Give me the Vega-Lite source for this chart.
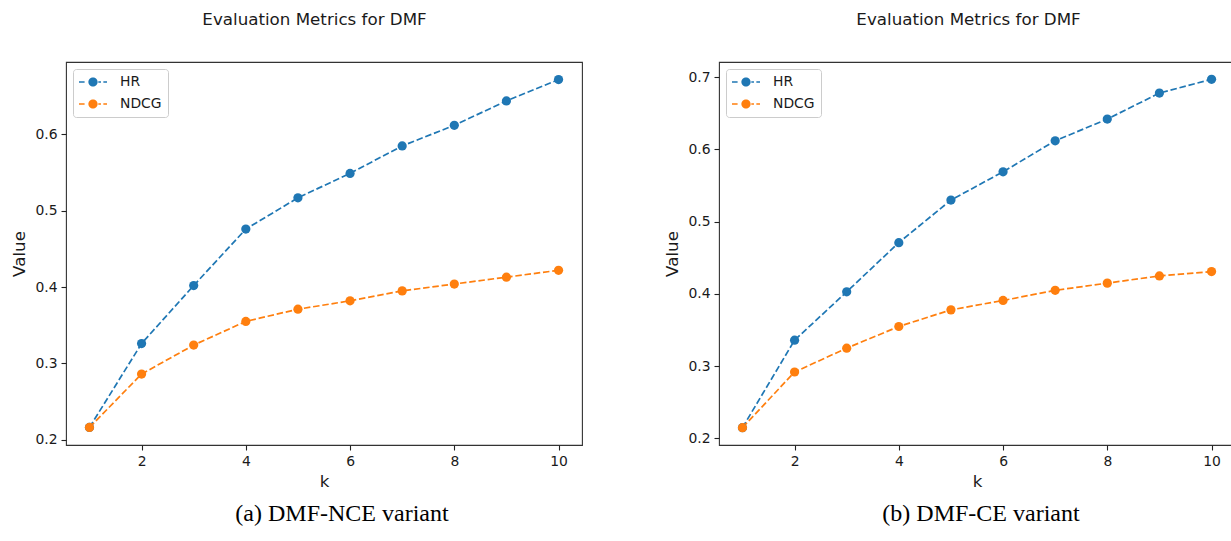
{
  "$schema": "https://vega.github.io/schema/vega-lite/v6.json",
  "padding": {"left": 11, "top": 10, "right": 0, "bottom": 0},
  "spacing": 81,
  "background": "white",
  "datasets": {
    "nce": [
      {"k": 1, "metric": "HR", "value": 0.216},
      {"k": 2, "metric": "HR", "value": 0.326},
      {"k": 3, "metric": "HR", "value": 0.402},
      {"k": 4, "metric": "HR", "value": 0.476},
      {"k": 5, "metric": "HR", "value": 0.517},
      {"k": 6, "metric": "HR", "value": 0.549},
      {"k": 7, "metric": "HR", "value": 0.585},
      {"k": 8, "metric": "HR", "value": 0.612},
      {"k": 9, "metric": "HR", "value": 0.644},
      {"k": 10, "metric": "HR", "value": 0.672},
      {"k": 1, "metric": "NDCG", "value": 0.216},
      {"k": 2, "metric": "NDCG", "value": 0.286},
      {"k": 3, "metric": "NDCG", "value": 0.324},
      {"k": 4, "metric": "NDCG", "value": 0.355},
      {"k": 5, "metric": "NDCG", "value": 0.371},
      {"k": 6, "metric": "NDCG", "value": 0.382},
      {"k": 7, "metric": "NDCG", "value": 0.395},
      {"k": 8, "metric": "NDCG", "value": 0.404},
      {"k": 9, "metric": "NDCG", "value": 0.413},
      {"k": 10, "metric": "NDCG", "value": 0.422}
    ],
    "ce": [
      {"k": 1, "metric": "HR", "value": 0.215},
      {"k": 2, "metric": "HR", "value": 0.336},
      {"k": 3, "metric": "HR", "value": 0.403},
      {"k": 4, "metric": "HR", "value": 0.471},
      {"k": 5, "metric": "HR", "value": 0.530},
      {"k": 6, "metric": "HR", "value": 0.569},
      {"k": 7, "metric": "HR", "value": 0.612},
      {"k": 8, "metric": "HR", "value": 0.642},
      {"k": 9, "metric": "HR", "value": 0.678},
      {"k": 10, "metric": "HR", "value": 0.697},
      {"k": 1, "metric": "NDCG", "value": 0.215},
      {"k": 2, "metric": "NDCG", "value": 0.292},
      {"k": 3, "metric": "NDCG", "value": 0.325},
      {"k": 4, "metric": "NDCG", "value": 0.355},
      {"k": 5, "metric": "NDCG", "value": 0.378},
      {"k": 6, "metric": "NDCG", "value": 0.391},
      {"k": 7, "metric": "NDCG", "value": 0.405},
      {"k": 8, "metric": "NDCG", "value": 0.415},
      {"k": 9, "metric": "NDCG", "value": 0.425},
      {"k": 10, "metric": "NDCG", "value": 0.431}
    ]
  },
  "resolve": {"scale": {"color": "independent", "y": "independent", "x": "independent"}, "legend": {"color": "independent"}},
  "hconcat": [
    {
      "title": {"text": "(a) DMF-NCE variant", "orient": "bottom", "font": "Liberation Serif", "fontSize": 24, "fontWeight": "normal", "color": "#000", "baseline": "alphabetic", "offset": 30, "anchor": "middle", "frame": "group", "dx": 18},
      "width": 516,
      "height": 383,
      "data": {"name": "nce"},
      "resolve": {"scale": {"x": "independent"}, "axis": {"x": "independent"}},
      "layer": [
        {
          "mark": {"type": "line", "strokeDash": [6.5, 2.8], "strokeWidth": 1.7},
          "encoding": {
            "x": {"field": "k", "type": "quantitative", "title": "k", "scale": {"domain": [0.55, 10.45], "nice": false, "zero": false}, "axis": {"values": [2, 4, 6, 8, 10], "format": "d"}},
            "y": {"field": "value", "type": "quantitative", "title": "Value", "scale": {"domain": [0.193, 0.695], "nice": false, "zero": false}, "axis": {"values": [0.2, 0.3, 0.4, 0.5, 0.6], "format": ".1f"}},
            "color": {"field": "metric", "type": "nominal", "scale": {"domain": ["HR", "NDCG"], "range": ["#1f77b4", "#ff7f0e"]},
              "legend": {"title": null, "orient": "top-left", "offset": 7, "symbolType": "M-1,-0.107H-0.2V0.107H-1Z M1.76,-0.107H2.14V0.107H1.76Z M2.48,-0.107H3V0.107H2.48Z M1.66,0A0.66,0.66,0,1,1,0.34,0A0.66,0.66,0,1,1,1.66,0Z", "symbolSize": 196, "symbolStrokeWidth": 0,
                "encode": {"symbols": {"update": {"fill": {"signal": "datum.value === 'HR' ? '#1f77b4' : '#ff7f0e'"}, "stroke": {"value": "transparent"}, "strokeWidth": {"value": 0}, "opacity": {"value": 1}, "fillOpacity": {"value": 1}}}}}}
          }
        },
        {
          "mark": {"type": "point", "filled": true, "size": 85, "opacity": 1},
          "encoding": {
            "x": {"field": "k", "type": "quantitative", "title": "Evaluation Metrics for DMF", "scale": {"domain": [0.55, 10.45], "nice": false, "zero": false}, "axis": {"orient": "top", "labels": false, "ticks": false, "domain": false, "titleFontSize": 16.7, "titlePadding": 34, "titleX": 248}},
            "y": {"field": "value", "type": "quantitative"},
            "color": {"field": "metric", "type": "nominal", "scale": {"domain": ["HR", "NDCG"], "range": ["#1f77b4", "#ff7f0e"]},
              "legend": {"title": null, "orient": "top-left", "offset": 7, "symbolType": "M-1,-0.107H-0.2V0.107H-1Z M1.76,-0.107H2.14V0.107H1.76Z M2.48,-0.107H3V0.107H2.48Z M1.66,0A0.66,0.66,0,1,1,0.34,0A0.66,0.66,0,1,1,1.66,0Z", "symbolSize": 196, "symbolStrokeWidth": 0,
                "encode": {"symbols": {"update": {"fill": {"signal": "datum.value === 'HR' ? '#1f77b4' : '#ff7f0e'"}, "stroke": {"value": "transparent"}, "strokeWidth": {"value": 0}, "opacity": {"value": 1}, "fillOpacity": {"value": 1}}}}}}
          }
        }
      ]
    },
    {
      "title": {"text": "(b) DMF-CE variant", "orient": "bottom", "font": "Liberation Serif", "fontSize": 24, "fontWeight": "normal", "color": "#000", "baseline": "alphabetic", "offset": 30, "anchor": "middle", "frame": "group", "dx": 4},
      "width": 516,
      "height": 383,
      "data": {"name": "ce"},
      "resolve": {"scale": {"x": "independent"}, "axis": {"x": "independent"}},
      "layer": [
        {
          "mark": {"type": "line", "strokeDash": [6.5, 2.8], "strokeWidth": 1.7},
          "encoding": {
            "x": {"field": "k", "type": "quantitative", "title": "k", "scale": {"domain": [0.55, 10.45], "nice": false, "zero": false}, "axis": {"values": [2, 4, 6, 8, 10], "format": "d"}},
            "y": {"field": "value", "type": "quantitative", "title": "Value", "scale": {"domain": [0.191, 0.721], "nice": false, "zero": false}, "axis": {"values": [0.2, 0.3, 0.4, 0.5, 0.6, 0.7], "format": ".1f"}},
            "color": {"field": "metric", "type": "nominal", "scale": {"domain": ["HR", "NDCG"], "range": ["#1f77b4", "#ff7f0e"]},
              "legend": {"title": null, "orient": "top-left", "offset": 7, "symbolType": "M-1,-0.107H-0.2V0.107H-1Z M1.76,-0.107H2.14V0.107H1.76Z M2.48,-0.107H3V0.107H2.48Z M1.66,0A0.66,0.66,0,1,1,0.34,0A0.66,0.66,0,1,1,1.66,0Z", "symbolSize": 196, "symbolStrokeWidth": 0,
                "encode": {"symbols": {"update": {"fill": {"signal": "datum.value === 'HR' ? '#1f77b4' : '#ff7f0e'"}, "stroke": {"value": "transparent"}, "strokeWidth": {"value": 0}, "opacity": {"value": 1}, "fillOpacity": {"value": 1}}}}}}
          }
        },
        {
          "mark": {"type": "point", "filled": true, "size": 85, "opacity": 1},
          "encoding": {
            "x": {"field": "k", "type": "quantitative", "title": "Evaluation Metrics for DMF", "scale": {"domain": [0.55, 10.45], "nice": false, "zero": false}, "axis": {"orient": "top", "labels": false, "ticks": false, "domain": false, "titleFontSize": 16.7, "titlePadding": 34, "titleX": 249}},
            "y": {"field": "value", "type": "quantitative"},
            "color": {"field": "metric", "type": "nominal", "scale": {"domain": ["HR", "NDCG"], "range": ["#1f77b4", "#ff7f0e"]},
              "legend": {"title": null, "orient": "top-left", "offset": 7, "symbolType": "M-1,-0.107H-0.2V0.107H-1Z M1.76,-0.107H2.14V0.107H1.76Z M2.48,-0.107H3V0.107H2.48Z M1.66,0A0.66,0.66,0,1,1,0.34,0A0.66,0.66,0,1,1,1.66,0Z", "symbolSize": 196, "symbolStrokeWidth": 0,
                "encode": {"symbols": {"update": {"fill": {"signal": "datum.value === 'HR' ? '#1f77b4' : '#ff7f0e'"}, "stroke": {"value": "transparent"}, "strokeWidth": {"value": 0}, "opacity": {"value": 1}, "fillOpacity": {"value": 1}}}}}}
          }
        }
      ]
    }
  ],
  "config": {
    "font": "DejaVu Sans",
    "view": {"stroke": "#333333", "strokeWidth": 1.1},
    "title": {"font": "DejaVu Sans", "fontSize": 16.7, "fontWeight": "normal", "color": "#1a1a1a"},
    "axis": {"grid": false, "domain": false, "tickColor": "#222222", "tickSize": 5, "tickWidth": 1.1, "labelFont": "DejaVu Sans", "labelFontSize": 13.9, "labelColor": "#1a1a1a", "labelPadding": 4, "titleFont": "DejaVu Sans", "titleFontSize": 16.7, "titleFontWeight": "normal", "titleColor": "#1a1a1a", "titlePadding": 6},
    "axisBottom": {"titlePadding": 6},
    "legend": {"labelFont": "DejaVu Sans", "labelFontSize": 13.9, "labelColor": "#1a1a1a", "strokeColor": "#cccccc", "fillColor": "rgba(255,255,255,0.8)", "cornerRadius": 3, "padding": 6, "rowPadding": 8, "labelOffset": 27}
  }
}
